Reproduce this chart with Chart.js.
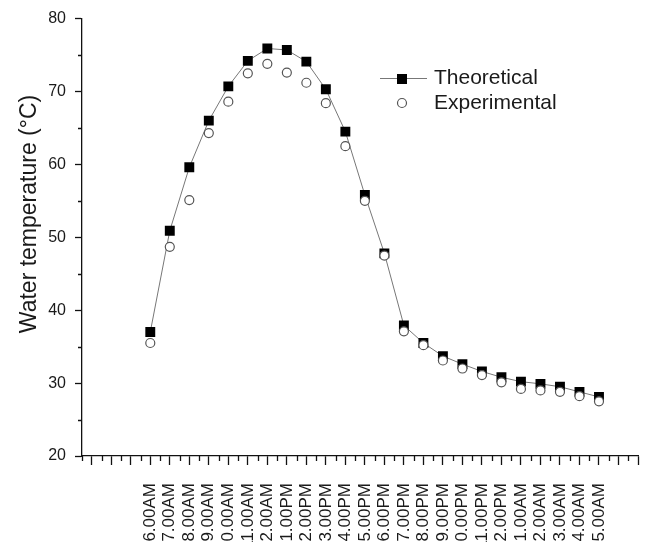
<!DOCTYPE html>
<html>
<head>
<meta charset="utf-8">
<script src="https://cdn.jsdelivr.net/npm/chart.js@4/dist/chart.umd.min.js"></script>
<style>
	html, body { margin: 0; padding: 0; background: #fff; overflow: hidden; }
	#wrap { width: 651px; height: 542px; }
</style>
</head>
<body>
<div id="wrap"><canvas id="chart" width="651" height="542"></canvas></div>
<script>
"use strict";


const hours = [
	"6.00AM", "7.00AM", "8.00AM", "9.00AM", "10.00AM", "11.00AM",
	"12.00AM", "1.00PM", "2.00PM", "3.00PM", "4.00PM", "5.00PM",
	"6.00PM", "7.00PM", "8.00PM", "9.00PM", "10.00PM", "11.00PM",
	"12.00PM", "1.00AM", "2.00AM", "3.00AM", "4.00AM", "5.00AM",
];

const theoretical = [
	37.0, 50.9, 59.6, 66.0, 70.7, 74.2, 75.9, 75.7, 74.1, 70.3, 64.5, 55.8,
	47.8, 37.9, 35.5, 33.7, 32.6, 31.6, 30.8, 30.2, 29.9, 29.5, 28.8, 28.1,
];

const experimental = [
	35.5, 48.7, 55.1, 64.3, 68.6, 72.5, 73.8, 72.6, 71.2, 68.4, 62.5, 55.0,
	47.5, 37.1, 35.2, 33.1, 32.0, 31.1, 30.1, 29.2, 29.0, 28.8, 28.2, 27.5,
];

const yTitle = "Water temperature (\u00b0C)";

const fontFamily = "'Liberation Sans', Arial, sans-serif";
const textColor = "#1a1a1a";
const axisColor = "#111";
const lineColor = "#777";


function toPoints(list) {
	return list.map((value, i) => ({ x: i, y: value }));
}


// minor ticks, y title and the legend box, drawn like the original plot
const decorations = {
	id: "decorations",
	afterDraw(chart) {
		const ctx = chart.ctx;
		const xs = chart.scales.x;
		const ys = chart.scales.y;
		ctx.save();

		ctx.strokeStyle = axisColor;
		ctx.lineWidth = 1.3;
		ctx.beginPath();
		for (let v = xs.min; v <= xs.max; v += 1) {
			const px = Math.round(xs.getPixelForValue(v)) + 0.5;
			ctx.moveTo(px, xs.top);
			ctx.lineTo(px, xs.top + 5);
		}
		for (let v = ys.min + 5; v < ys.max; v += 10) {
			const py = Math.round(ys.getPixelForValue(v)) + 0.5;
			ctx.moveTo(ys.right, py);
			ctx.lineTo(ys.right - 4, py);
		}
		ctx.stroke();

		ctx.fillStyle = textColor;
		ctx.font = "23px " + fontFamily;
		ctx.textAlign = "center";
		ctx.textBaseline = "middle";
		ctx.translate(30, 214);
		ctx.rotate(-Math.PI / 2);
		ctx.fillText(yTitle, 0, 0);
		ctx.setTransform(1, 0, 0, 1, 0, 0);

		ctx.font = "21px " + fontFamily;
		ctx.textAlign = "left";
		const sets = chart.data.datasets;
		const theo = sets.find(s => s.label === "Theoretical");
		const expe = sets.find(s => s.label === "Experimental");

		ctx.strokeStyle = theo.borderColor;
		ctx.lineWidth = theo.borderWidth;
		ctx.beginPath();
		ctx.moveTo(380, 78.5);
		ctx.lineTo(427, 78.5);
		ctx.stroke();
		ctx.fillStyle = theo.pointBackgroundColor;
		ctx.fillRect(397, 74, 10, 10);
		ctx.fillStyle = textColor;
		ctx.fillText(theo.label, 434, 78);

		ctx.beginPath();
		ctx.arc(402, 103, 4.5, 0, Math.PI * 2);
		ctx.fillStyle = expe.pointBackgroundColor;
		ctx.fill();
		ctx.strokeStyle = expe.pointBorderColor;
		ctx.lineWidth = expe.pointBorderWidth;
		ctx.stroke();
		ctx.fillStyle = textColor;
		ctx.fillText(expe.label, 434, 103);

		ctx.restore();
	},
};


function setup_chart() {
	const ctx = document.getElementById("chart").getContext("2d");

	const data = {
		datasets: [
			{
				label: "Theoretical",
				data: toPoints(theoretical),
				showLine: true,
				borderColor: lineColor,
				borderWidth: 1,
				pointStyle: "rect",
				pointRadius: 7,
				pointHoverRadius: 7,
				pointBackgroundColor: "#000",
				pointBorderColor: "#000",
				pointBorderWidth: 0,
				order: 2,
			},
			{
				label: "Experimental",
				data: toPoints(experimental),
				showLine: false,
				pointStyle: "circle",
				pointRadius: 4.5,
				pointHoverRadius: 4.5,
				pointBackgroundColor: "#fff",
				pointBorderColor: "#555",
				pointBorderWidth: 1.2,
				order: 1,
			},
		],
	};

	const config = {
		type: "scatter",
		data: data,
		options: {
			responsive: false,
			animation: false,
			devicePixelRatio: 1,
			layout: {
				padding: { top: 18, right: 13, left: 0, bottom: 0 },
			},
			plugins: {
				legend: { display: false },
				tooltip: { enabled: false },
			},
			scales: {
				x: {
					type: "linear",
					min: -3.5,
					max: 25,
					afterFit: (scale) => {
						scale.height = 86;
						scale.paddingLeft = 0;
						scale.paddingRight = 0;
					},
					border: { color: axisColor, width: 1.3 },
					grid: {
						drawOnChartArea: false,
						tickLength: 9,
						tickColor: axisColor,
						tickWidth: 1.3,
					},
					ticks: {
						stepSize: 1,
						includeBounds: false,
						autoSkip: false,
						minRotation: 90,
						maxRotation: 90,
						padding: 18,
						color: textColor,
						font: { family: fontFamily, size: 17 },
						callback: (value) => hours[value] || "",
					},
				},
				y: {
					min: 20,
					max: 80,
					afterFit: (scale) => { scale.width = 82; },
					border: { color: axisColor, width: 1.3 },
					grid: {
						drawOnChartArea: false,
						tickLength: 7,
						tickColor: axisColor,
						tickWidth: 1.3,
					},
					ticks: {
						stepSize: 10,
						padding: 9,
						color: textColor,
						font: { family: fontFamily, size: 16 },
					},
				},
			},
		},
		plugins: [decorations],
	};

	new Chart(ctx, config);
}


setup_chart();
</script>
</body>
</html>
